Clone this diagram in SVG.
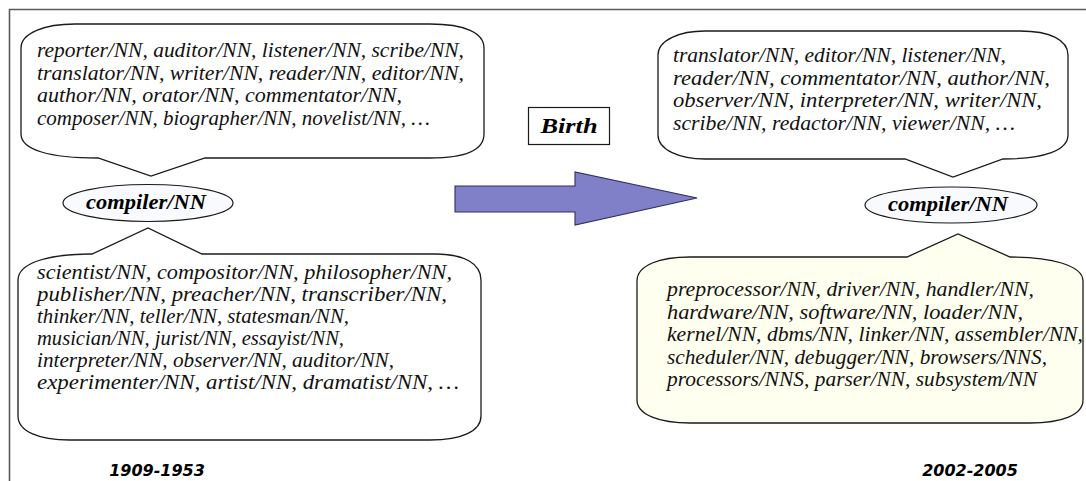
<svg xmlns="http://www.w3.org/2000/svg" width="1086" height="481" viewBox="0 0 1086 481">
<style>
.co{fill:#fff;stroke:#1a1a1a;stroke-width:1.3}
.coy{fill:#fffff0;stroke:#1a1a1a;stroke-width:1.3}
.el{fill:#f8fafd;stroke:#1a1a1a;stroke-width:1.2}
.t{font-family:"Liberation Serif",serif;font-style:italic;font-size:20.5px;fill:#111}
.bi{font-family:"Liberation Serif",serif;font-style:italic;font-weight:bold;font-size:20px;fill:#000}
.yr{font-family:"DejaVu Sans",sans-serif;font-style:italic;font-weight:bold;font-size:16px;fill:#000}
</style>
<rect width="1086" height="481" fill="#fff"/>
<path d="M9.5,481 V9.5 H1086" fill="none" stroke="#5a5a5a" stroke-width="1.6"/>

<g id="callout-tl">
<path class="co" d="M21,48 C21,33 45,24 75,24 L430,24 C465,24 484,33 484,48 L484,134 C484,150 465,158 430,158 L205,158 L151,176 L98,158 C50,158 21,150 21,134 Z"/>
<text class="t">
<tspan x="37" y="57" textLength="427" lengthAdjust="spacingAndGlyphs">reporter/NN, auditor/NN, listener/NN, scribe/NN,</tspan>
<tspan x="37" y="79.5" textLength="427" lengthAdjust="spacingAndGlyphs">translator/NN, writer/NN, reader/NN, editor/NN,</tspan>
<tspan x="37" y="102" textLength="365" lengthAdjust="spacingAndGlyphs">author/NN, orator/NN, commentator/NN,</tspan>
<tspan x="37" y="124.5" textLength="393" lengthAdjust="spacingAndGlyphs">composer/NN, biographer/NN, novelist/NN, …</tspan>
</text>
</g>

<g id="node-compiler-left">
<ellipse class="el" cx="148" cy="203" rx="85" ry="18.5"/>
<text class="bi" x="146" y="209" text-anchor="middle" textLength="120" lengthAdjust="spacingAndGlyphs">compiler/NN</text>
</g>

<g id="callout-bl">
<path class="co" d="M18,280 C18,264 45,254 92,254 L148,228 L202,254 L435,254 C465,254 481,264 481,280 L481,416 C481,431 462,440 430,440 L70,440 C38,440 18,431 18,416 Z"/>
<text class="t">
<tspan x="37" y="279" textLength="415" lengthAdjust="spacingAndGlyphs">scientist/NN, compositor/NN, philosopher/NN,</tspan>
<tspan x="37" y="301" textLength="410" lengthAdjust="spacingAndGlyphs">publisher/NN, preacher/NN, transcriber/NN,</tspan>
<tspan x="37" y="323" textLength="312" lengthAdjust="spacingAndGlyphs">thinker/NN, teller/NN, statesman/NN,</tspan>
<tspan x="37" y="345" textLength="307" lengthAdjust="spacingAndGlyphs">musician/NN, jurist/NN, essayist/NN,</tspan>
<tspan x="37" y="367" textLength="357" lengthAdjust="spacingAndGlyphs">interpreter/NN, observer/NN, auditor/NN,</tspan>
<tspan x="37" y="389" textLength="422" lengthAdjust="spacingAndGlyphs">experimenter/NN, artist/NN, dramatist/NN, …</tspan>
</text>
</g>

<g id="label-1909">
<text class="yr" x="157" y="476" text-anchor="middle">1909-1953</text>
</g>

<g id="node-birth">
<rect x="528.5" y="107.5" width="81" height="37" fill="#fff" stroke="#1a1a1a" stroke-width="1.2"/>
<text class="bi" x="569" y="133" text-anchor="middle" font-size="22" textLength="57" lengthAdjust="spacingAndGlyphs">Birth</text>
</g>

<g id="connectors">
<path d="M455,186 L575,186 L575,172 L697,198 L575,225 L575,212 L455,212 Z" fill="#8080c8" stroke="#2e2e5e" stroke-width="1.1" stroke-linejoin="miter"/>
</g>

<g id="callout-tr">
<path class="co" d="M658,55 C658,40 680,31 705,31 L1020,31 C1050,31 1068,40 1068,55 L1068,135 C1068,150 1045,159 1003,159 L953,177 L905,159 L705,159 C680,159 658,150 658,135 Z"/>
<text class="t">
<tspan x="673" y="62" textLength="333" lengthAdjust="spacingAndGlyphs">translator/NN, editor/NN, listener/NN,</tspan>
<tspan x="673" y="84.5" textLength="377" lengthAdjust="spacingAndGlyphs">reader/NN, commentator/NN, author/NN,</tspan>
<tspan x="673" y="107" textLength="369" lengthAdjust="spacingAndGlyphs">observer/NN, interpreter/NN, writer/NN,</tspan>
<tspan x="673" y="129.5" textLength="342" lengthAdjust="spacingAndGlyphs">scribe/NN, redactor/NN, viewer/NN, …</tspan>
</text>
</g>

<g id="node-compiler-right">
<ellipse class="el" cx="951" cy="205" rx="86" ry="18"/>
<text class="bi" x="948" y="211" text-anchor="middle" textLength="120" lengthAdjust="spacingAndGlyphs">compiler/NN</text>
</g>

<g id="callout-br">
<path class="coy" d="M637,281 C637,265 660,257 690,257 L907,257 L958,234 L1010,257 C1050,257 1083,265 1083,281 L1083,400 C1083,415 1062,423 1030,423 L690,423 C660,423 637,415 637,400 Z"/>
<text class="t">
<tspan x="667" y="296" textLength="367" lengthAdjust="spacingAndGlyphs">preprocessor/NN, driver/NN, handler/NN,</tspan>
<tspan x="667" y="318.5" textLength="356" lengthAdjust="spacingAndGlyphs">hardware/NN, software/NN, loader/NN,</tspan>
<tspan x="667" y="341" textLength="416" lengthAdjust="spacingAndGlyphs">kernel/NN, dbms/NN, linker/NN, assembler/NN,</tspan>
<tspan x="667" y="363.5" textLength="380" lengthAdjust="spacingAndGlyphs">scheduler/NN, debugger/NN, browsers/NNS,</tspan>
<tspan x="667" y="386" textLength="370" lengthAdjust="spacingAndGlyphs">processors/NNS, parser/NN, subsystem/NN</tspan>
</text>
</g>

<g id="label-2002">
<text class="yr" x="970" y="476" text-anchor="middle">2002-2005</text>
</g>
</svg>
